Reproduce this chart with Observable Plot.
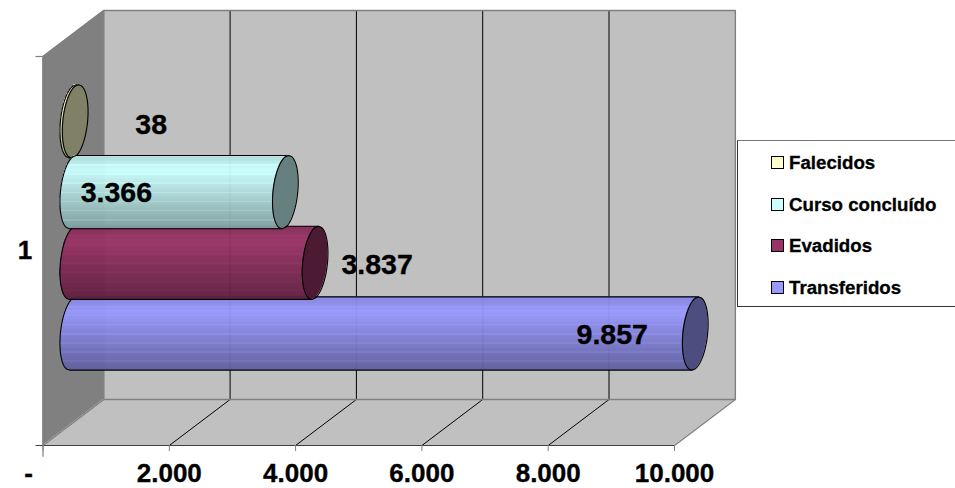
<!DOCTYPE html>
<html><head><meta charset="utf-8">
<script src="https://cdn.jsdelivr.net/npm/d3@7"></script>
<script src="https://cdn.jsdelivr.net/npm/@observablehq/plot@0.6"></script>
<style>
html,body{margin:0;padding:0;background:#fff;overflow:hidden}
#wrap{position:relative;width:955px;height:488px;overflow:hidden;font-family:"Liberation Sans",Arial,sans-serif}
#wrap svg text{stroke:#000;stroke-width:.35px}
#legend{position:absolute;left:737px;top:140px;width:240px;height:167px;box-sizing:border-box;border:1px solid #333;border-top-color:#777;background:#fff}
#legend div{position:absolute;left:51px;font-weight:bold;font-size:18.7px;line-height:20px;white-space:nowrap;color:#000;-webkit-text-stroke:.3px #000}
#legend i{position:absolute;left:-18px;top:3px;border:1px solid #000;box-sizing:content-box;display:block;width:11px;height:11px;-webkit-text-stroke:0}
</style></head><body><div id="wrap"></div>
<script>
const categoryLabel = "1";
const seriesNames = ["Transferidos","Evadidos","Curso concluído","Falecidos"];
const seriesValues = [9857,3837,3366,38];
const seriesColors = ["#9999ff","#993366","#ccffff","#ffffcc"];
const xTicks = [0,2000,4000,6000,8000,10000];
const valueLabels = ["9.857","3.837","3.366","38"];
const legendOrder = ["Falecidos","Curso concluído","Evadidos","Transferidos"];

// chart geometry (style, not data)
const labelShift = [[-83,1],[62,2],[-169,1],[76,3]];
const drawOrder = [0,1,3,2];
const X0=42.5,X1=674,YB=445,YT=56;
const pxX=(X1-X0)/10000, pxY=(YB-YT)/1;
const depthX=60.8/pxX, depthY=46/pxY;
const midD=0.49;
const rx=12.4/pxX, tilt=3.4/pxX, ry=36.6/pxY, step=70.7/pxY;
const lift=1/pxY;
const font='"Liberation Sans",Arial,sans-serif';

const back={x1:depthX,x2:10000+depthX,y1:depthY,y2:1+depthY};
const side=[{x:0,y1:0,y2:1},{x:depthX,y1:depthY,y2:1+depthY}];
const floor=[{x1:0,x2:10000,y:0},{x1:depthX,x2:10000+depthX,y:depthY}];

const marks=[
  Plot.rect([back],{x1:"x1",x2:"x2",y1:"y1",y2:"y2",fill:"#c0c0c0"}),
  Plot.areaY(side,{x:"x",y1:"y1",y2:"y2",fill:"#808080"}),
  Plot.area(floor,{x1:"x1",x2:"x2",y1:"y",y2:"y",fill:"#c0c0c0"}),
  Plot.ruleX(xTicks.slice(1,-1),{x:d=>d+depthX,y1:depthY,y2:1+depthY,stroke:"#000",strokeWidth:1}),
  Plot.link(xTicks.slice(1,-1),{x1:d=>d,y1:0,x2:d=>d+depthX,y2:depthY,stroke:"#000",strokeWidth:1}),
  // wall edges
  Plot.line([[depthX,depthY],[depthX,1+depthY],[10000+depthX,1+depthY],[10000+depthX,depthY],[depthX,depthY],[0,0],[0,1],[depthX,1+depthY]],{stroke:"#808080",strokeWidth:1.5}),
  Plot.line([[10000,0],[10000+depthX,depthY]],{stroke:"#808080",strokeWidth:1.5}),
  Plot.ruleY([0],{x1:-110,x2:10000,stroke:"#404040",strokeWidth:1.2}),
  Plot.ruleY([1],{x1:-110,x2:0,stroke:"#808080",strokeWidth:1.2}),
  Plot.ruleX([0],{y1:-0.03,y2:0,stroke:"#808080",strokeWidth:1.2})
];

const N=48;
const shade=t=>t<0.2?0.85+0.15*t/0.2:1-0.38*(t-0.2)/0.8;
const centerOf=i=>0.5+midD*depthY+(i-1.5)*step+lift;
for(const i of drawOrder){
  const yc=centerOf(i);
  const c0=midD*depthX, c1=seriesValues[i]+midD*depthX;
  const base=d3.rgb(seriesColors[i]);
  const strips=d3.range(N).map(k=>{
    const t=k/N, t2=(k+1)/N, u=1-2*(t+t2)/2;
    const s=Math.min(1,shade((t+t2)/2)+(k%6===0?0.05:0));
    return {x1:c0-rx*Math.sqrt(Math.max(0,1-u*u))+tilt*u,x2:c1+tilt*u,
      y1:yc+ry*(1-2*t),y2:yc+ry*(1-2*t2),
      fill:d3.rgb(base.r*s,base.g*s,base.b*s).formatHex()};
  });
  marks.push(Plot.rect(strips,{x1:"x1",x2:"x2",y1:"y1",y2:"y2",fill:"fill",fillOpacity:0.96,shapeRendering:"crispEdges"}));
  const angles=d3.range(0,61).map(k=>k/60);
  const leftArc=angles.map(a=>{const u=1-2*a;return [c0-rx*Math.sqrt(1-u*u)+tilt*u,yc+ry*u];});
  marks.push(Plot.line([[c1+tilt,yc+ry],...leftArc,[c1-tilt,yc-ry]],{stroke:"#000",strokeWidth:1.1}));
  const capEdge=angles.map(a=>{const u=1-2*a,w=rx*Math.sqrt(1-u*u);return {x1:c1-w+tilt*u,x2:c1+w+tilt*u,y:yc+ry*u};});
  marks.push(Plot.area(capEdge,{x1:"x1",x2:"x2",y1:"y",y2:"y",fill:d3.rgb(base.r*.5,base.g*.5,base.b*.5).formatHex()}));
  marks.push(Plot.line([...capEdge.map(d=>[d.x1,d.y]),...capEdge.slice().reverse().map(d=>[d.x2,d.y])],{stroke:"#000",strokeWidth:1.1}));
}
// value labels
seriesValues.forEach((v,i)=>{
  marks.push(Plot.text([valueLabels[i]],{x:v+midD*depthX,y:centerOf(i),text:d=>d,dx:labelShift[i][0],dy:labelShift[i][1],fontSize:28.5,fontWeight:"bold",fill:"#000"}));
});
marks.push(Plot.text([categoryLabel],{x:0,y:0.5,dx:-18,dy:0,fontSize:26,fontWeight:"bold",fill:"#000",text:d=>d}));
marks.push(Plot.axisX({ticks:xTicks,anchor:"bottom",label:null,tickSize:6,tickPadding:12,fontSize:26,stroke:"#808080",fill:"#000",
  tickFormat:d=>d===0?"-\u00a0\u00a0\u00a0\u00a0":d3.format(",")(d).replace(/,/g,".")}));

const chart=Plot.plot({width:955,height:488,marginLeft:0,marginRight:0,marginTop:0,marginBottom:43,
  style:{fontFamily:font,fontWeight:"bold",background:"#fff",overflow:"visible"},
  x:{domain:[0,10000],range:[X0,X1]},
  y:{domain:[0,1],range:[YB,YT],axis:null},
  color:{type:"identity"},
  marks});
const wrap=document.getElementById("wrap");
wrap.appendChild(chart);
const lg=document.createElement("div");lg.id="legend";
const tops=[12,54,95,137];
legendOrder.forEach((n,k)=>{
  const d=document.createElement("div");d.style.top=tops[k]+"px";d.textContent=n;
  const sw=document.createElement("i");sw.style.background=seriesColors[seriesNames.indexOf(n)];
  d.appendChild(sw);lg.appendChild(d);
});
wrap.appendChild(lg);
</script></body></html>
